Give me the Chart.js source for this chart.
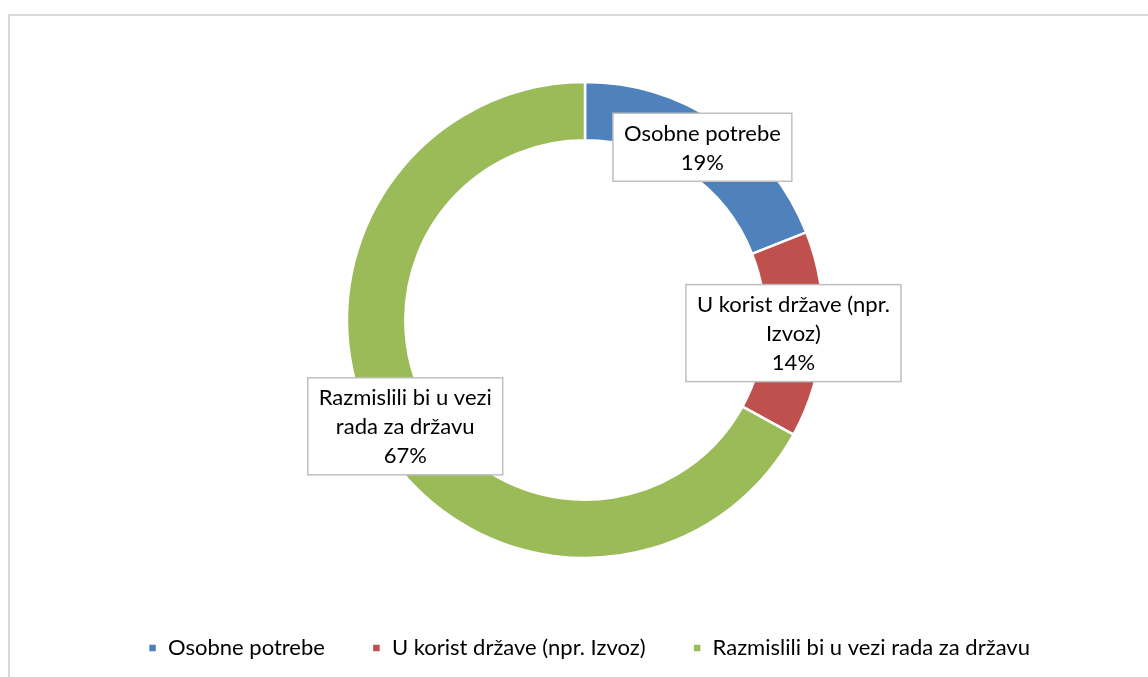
<!DOCTYPE html>
<html>
<head>
<meta charset="utf-8">
<script src="https://cdn.jsdelivr.net/npm/chart.js@4/dist/chart.umd.min.js"></script>
<style>
  html, body { margin: 0; padding: 0; background: #fff; overflow: hidden; width: 1148px; height: 677px; }
  #frame { position: absolute; left: 8px; top: 14px; width: 1170px; height: 700px; border: 2px solid #d9d9d9; box-sizing: border-box; }
  #wrap { position: absolute; left: 10px; top: 16px; width: 1158px; height: 653px; }
</style>
</head>
<body>
<div id="frame"></div>
<div id="wrap"><canvas id="c"></canvas></div>
<script>
const categories = ["Osobne potrebe", "U korist države (npr. Izvoz)", "Razmislili bi u vezi rada za državu"];
const values = [19, 14, 67];
const colors = ["#4F81BD", "#C0504D", "#9BBB59"];
const labelLines = [["Osobne potrebe"], ["U korist države (npr.", "Izvoz)"], ["Razmislili bi u vezi", "rada za državu"]];

const FONT = "Lato, 'Open Sans', sans-serif";

const shiftPlugin = {
  id: 'shift',
  afterLayout(chart) {
    chart.chartArea.left -= 4;
    chart.chartArea.right -= 4;
  }
};

const labelPlugin = {
  id: 'boxLabels',
  afterDatasetsDraw(chart) {
    const ctx = chart.ctx;
    const meta = chart.getDatasetMeta(0);
    const total = values.reduce((a, b) => a + b, 0);
    ctx.save();
    ctx.font = "22px " + FONT;
    ctx.textAlign = 'center';
    ctx.textBaseline = 'middle';
    const lh = 29, padX = 11, padY = 5;
    meta.data.forEach((arc, i) => {
      const p = arc.tooltipPosition();
      const lines = labelLines[i].concat([Math.round(values[i] / total * 100) + '%']);
      let w = 0;
      lines.forEach(l => { w = Math.max(w, ctx.measureText(l).width); });
      const bw = w + 2 * padX, bh = lines.length * lh + 2 * padY;
      const x0 = p.x - bw / 2, y0 = p.y - bh / 2;
      ctx.fillStyle = '#ffffff';
      ctx.fillRect(x0, y0, bw, bh);
      ctx.strokeStyle = '#bfbfbf';
      ctx.lineWidth = 1.5;
      ctx.strokeRect(x0, y0, bw, bh);
      ctx.fillStyle = '#000000';
      lines.forEach((l, k) => {
        ctx.fillText(l, p.x, y0 + padY + lh * k + lh / 2 + 1);
      });
    });
    ctx.restore();
  }
};

new Chart(document.getElementById('c'), {
  type: 'doughnut',
  data: {
    labels: categories,
    datasets: [{
      data: values,
      backgroundColor: colors,
      borderColor: '#ffffff',
      borderWidth: 2.5,
      radius: 238,
      cutout: '75.5%'
    }]
  },
  options: {
    responsive: true,
    maintainAspectRatio: false,
    animation: false,
    layout: { padding: { top: 34, bottom: 0, left: 0, right: 0 } },
    plugins: {
      tooltip: { enabled: false },
      legend: {
        position: 'bottom',
        labels: {
          boxWidth: 9,
          boxHeight: 9,
          padding: 47,
          color: '#000000',
          font: { family: FONT, size: 22 }
        }
      }
    }
  },
  plugins: [shiftPlugin, labelPlugin]
});
</script>
</body>
</html>
